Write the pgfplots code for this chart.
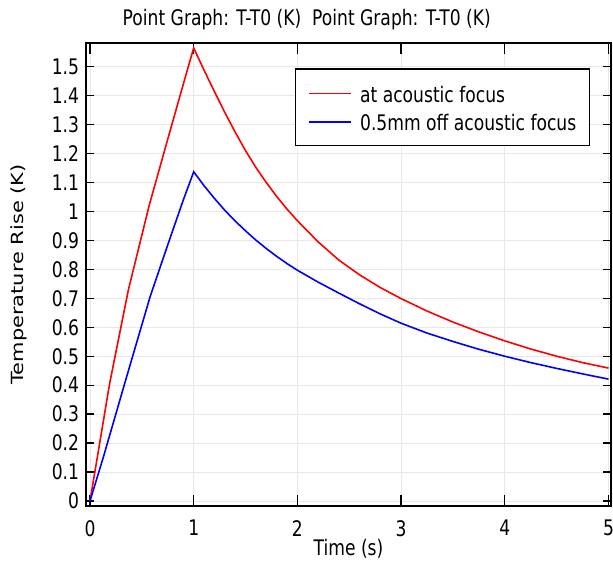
\documentclass[border=0pt]{standalone}
\usepackage{fontspec}
\setmainfont{DejaVu Sans}[FakeStretch=0.8]
\newfontfamily\ylabfont{DejaVu Sans}[FakeStretch=1.25]
\usepackage{pgfplots}
\pgfplotsset{compat=1.18}
\definecolor{gridgray}{RGB}{232,232,232}
\pgfplotstableread{
t v
0 0
0.19 0.407
0.37 0.729
0.57 1.02
0.75 1.25
0.93 1.478
1.0 1.565
1.1 1.488
1.2 1.414
1.3 1.342
1.4 1.274
1.5 1.21
1.6 1.152
1.7 1.10
1.8 1.052
1.9 1.008
2.0 0.968
2.2 0.895
2.4 0.832
2.6 0.781
2.8 0.737
3.0 0.699
3.25 0.656
3.5 0.618
3.75 0.584
4.0 0.553
4.25 0.525
4.5 0.50
4.75 0.478
5.0 0.459
}\redtab
\pgfplotstableread{
t v
0 0
0.13 0.153
0.35 0.425
0.58 0.706
0.75 0.885
0.9 1.04
1.0 1.137
1.1 1.089
1.2 1.045
1.3 1.004
1.4 0.967
1.5 0.933
1.6 0.901
1.7 0.872
1.8 0.845
1.9 0.820
2.0 0.797
2.2 0.756
2.4 0.718
2.6 0.681
2.8 0.646
3.0 0.614
3.25 0.580
3.5 0.551
3.75 0.524
4.0 0.500
4.25 0.478
4.5 0.458
4.75 0.439
5.0 0.421
}\bluetab
\begin{document}
\begin{tikzpicture}[font=\fontsize{21.5}{25}\selectfont]
\begin{axis}[
  scale only axis,
  width=525bp, height=463.3bp,
  xmin=-0.0386, xmax=5.024,
  ymin=-0.0173, ymax=1.583,
  xtick={0,1,2,3,4,5},
  ytick={0,0.1,...,1.5},
  /pgf/number format/assume math mode=true,
  tickpos=both, tick align=inside,
  xtick style={black, line width=1.3bp, /pgfplots/major tick length=11bp},
  ytick style={black, line width=1.3bp, /pgfplots/major tick length=8bp},
  axis line style={black, line width=1.7bp},
  grid=major,
  major grid style={gridgray, line width=0.9bp},
  xticklabel style={anchor=north, inner sep=0pt, yshift=-14bp},
  yticklabel style={anchor=east, inner sep=0pt, xshift=-6.7bp},
  title={Point Graph: T-T0 (K)\ \ Point Graph: T-T0 (K)},
  title style={at={(axis description cs:0.4204,1.025)}, anchor=base, inner sep=0pt},
  xlabel={Time (s)},
  xlabel style={at={(axis description cs:0.5,-0.1058)}, anchor=base, inner sep=0pt},
  ylabel={\ylabfont\fontsize{16.8}{20}\selectfont Temperature Rise (K)},
  ylabel style={at={(axis description cs:-0.119,0.5)}, anchor=base, inner sep=0pt},
  legend style={at={(axis description cs:0.398,0.9447)}, anchor=north west,
    draw=black, very thick, inner xsep=13.3bp, inner ysep=10bp,
    nodes={inner sep=0pt, text height=23.4bp, text depth=5bp, anchor=base west}},
  legend cell align=left,
]
\addplot[red, line width=1.6bp,
  legend image code/.code={%
    \node[inner sep=0pt, text height=, text depth=, anchor=west] at (0bp,9bp)
      {\textcolor{red}{\rule[-0.8bp]{42bp}{1.6bp}}\hspace*{9.3bp}};}]
  table[x=t, y=v] {\redtab};
\addlegendentry{at acoustic focus}
\addplot[blue, line width=1.6bp,
  legend image code/.code={%
    \node[inner sep=0pt, text height=, text depth=, anchor=west] at (0bp,9bp)
      {\textcolor{blue}{\rule[-0.8bp]{42bp}{1.6bp}}\hspace*{9.3bp}};}]
  table[x=t, y=v] {\bluetab};
\addlegendentry{0.5mm off acoustic focus}
\end{axis}
\pgfresetboundingbox
\useasboundingbox (-86bp,-56bp) rectangle (527bp,506bp);
\end{tikzpicture}
\end{document}
